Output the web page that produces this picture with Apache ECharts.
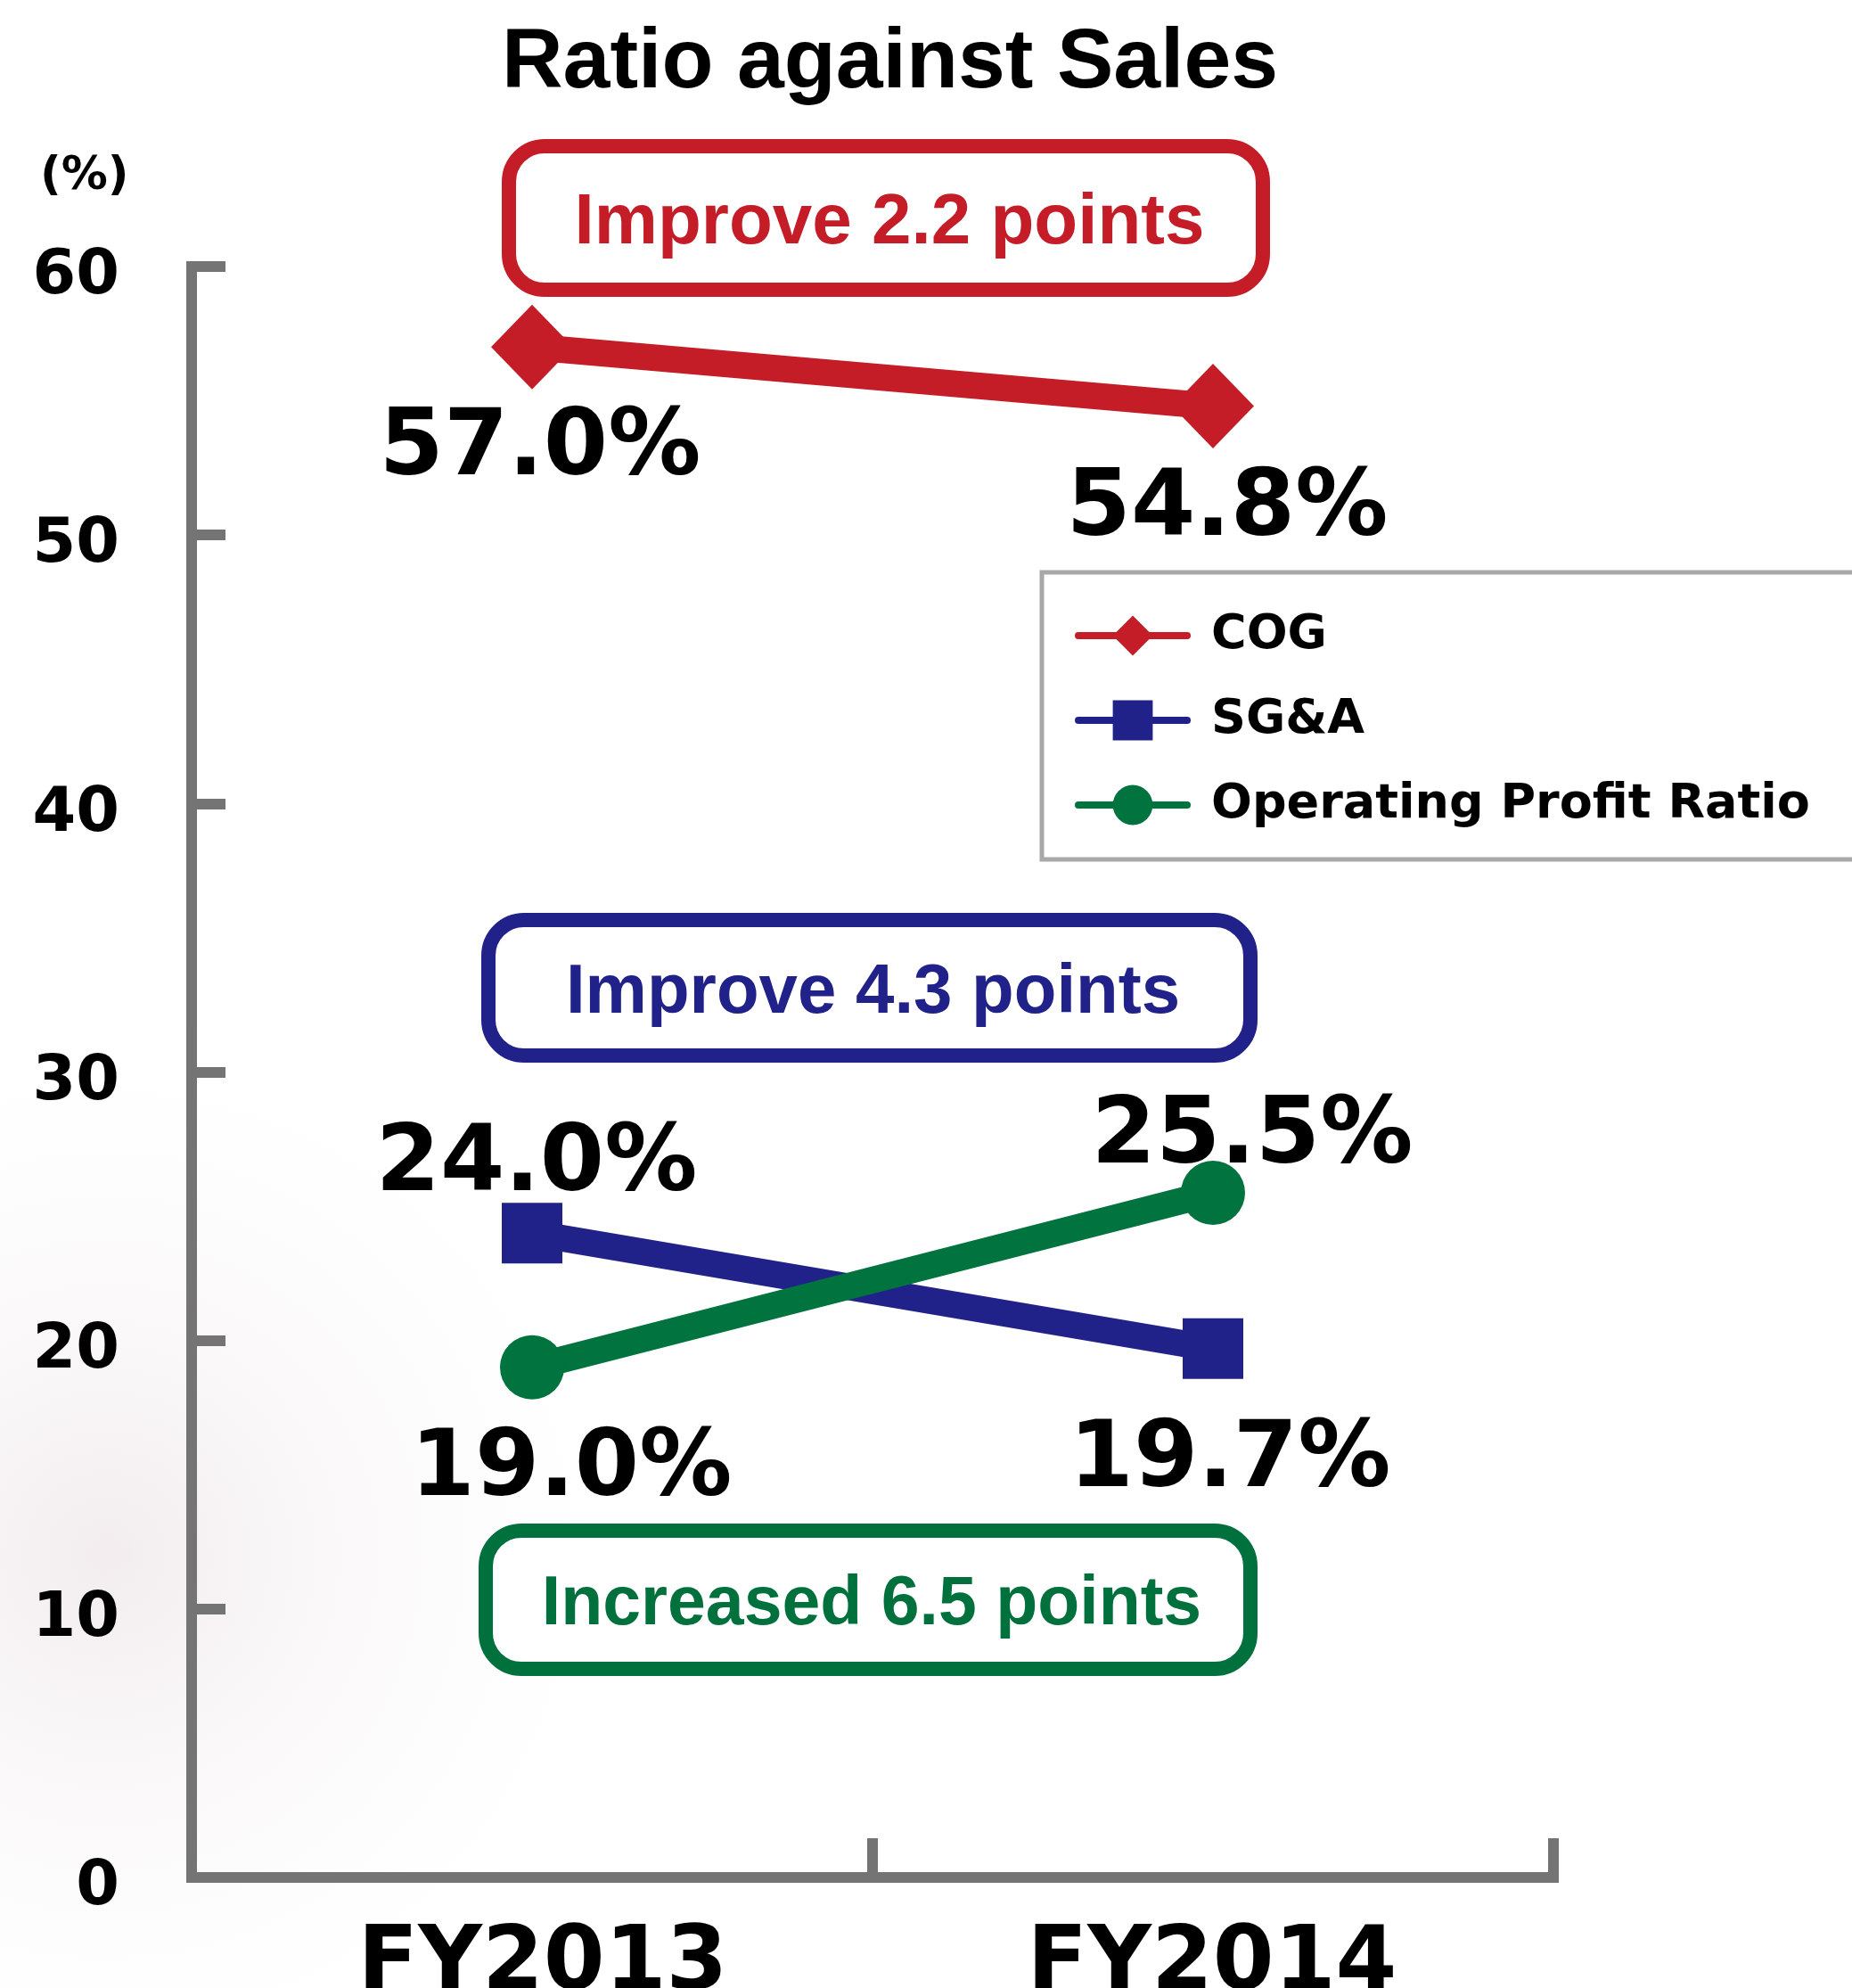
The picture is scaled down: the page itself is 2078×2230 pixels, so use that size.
<!DOCTYPE html>
<html><head><meta charset="utf-8">
<script src="https://cdn.jsdelivr.net/npm/echarts@6/dist/echarts.min.js"></script>
<style>html,body{margin:0;padding:0;background:#fff}#c{width:2078px;height:2230px}</style>
</head><body><div id="c"></div>
<script>
// ---- data ----
const categories = ['FY2013', 'FY2014'];
const seriesNames = ['COG', 'SG&A', 'Operating Profit Ratio'];
const cogValues = [57.0, 54.8];
const sgaValues = [24.0, 19.7];
const opValues = [19.0, 25.5];
const yTickLabels = ['0', '10', '20', '30', '40', '50', '60'];
const titleText = 'Ratio against Sales';
const unitText = '(%)';
const annotationTexts = ['Improve 2.2 points', 'Improve 4.3 points', 'Increased 6.5 points'];

// ---- styles ----
const RED = '#C41D28', BLUE = '#21218A', GREEN = '#00733E';
const AXIS = '#747474';
const EXT = 'DejaVu Sans';
const SANS = 'Liberation Sans';
const labelOffsets = [
  [[9, 116], [16, 117]],
  [[5, -75], [19, 127]],
  [[44, 116], [44, -61]]
];
const boxes = [
  {x: 571, y: 164, w: 846, h: 161, color: RED, fs: 80},
  {x: 548, y: 1032, w: 855, h: 152, color: BLUE, fs: 78},
  {x: 545, y: 1717, w: 858, h: 155, color: '#00703D', fs: 77}
];

function mkData(vals, si) {
  return vals.map((v, i) => ({value: v, label: {offset: labelOffsets[si][i]}}));
}
const labelCommon = {
  show: true, position: 'inside',
  formatter: p => p.value.toFixed(1) + '%',
  fontFamily: EXT, fontWeight: 'bold', fontSize: 104, color: '#000'
};

const chart = echarts.init(document.getElementById('c'), null, {renderer: 'canvas'});
const graphics = [
  {type: 'rect', silent: true, z: -10,
   shape: {x: 0, y: 1150, width: 1000, height: 1080},
   style: {fill: {type: 'radial', x: 0.12, y: 0.55, r: 0.65,
     colorStops: [{offset: 0, color: 'rgba(236,228,230,0.7)'}, {offset: 1, color: 'rgba(255,255,255,0)'}]}}}
];
boxes.forEach((b, i) => {
  graphics.push({type: 'rect', z: 10, shape: {x: b.x, y: b.y, width: b.w, height: b.h, r: 40},
    style: {fill: '#fff', stroke: b.color, lineWidth: 16}});
  graphics.push({type: 'text', z: 11, x: b.x + b.w / 2 + 4, y: b.y + b.h / 2 + 6,
    style: {text: annotationTexts[i], fill: b.color, font: 'bold ' + b.fs + 'px "Liberation Sans"',
      align: 'center', verticalAlign: 'middle', textAlign: 'center', textVerticalAlign: 'middle'}});
});

const xLabelFont = {fontFamily: EXT, fontWeight: 'bold', fontSize: 99, color: '#000'};

chart.setOption({
  animation: false,
  backgroundColor: '#fff',
  title: [
    {text: titleText, left: 563, top: 24, padding: 0,
     textStyle: {fontFamily: SANS, fontWeight: 'bold', fontSize: 95, color: '#000'}},
    {text: unitText, left: 45, top: 172, padding: 0,
     textStyle: {fontFamily: EXT, fontWeight: 'bold', fontSize: 52, color: '#000'}}
  ],
  grid: {left: 215, right: 335, top: 299, bottom: 124, containLabel: false, outerBoundsMode: 'none'},
  legend: {
    left: 1169, top: 642, orient: 'vertical',
    data: seriesNames,
    itemWidth: 122, itemHeight: 56, itemGap: 41,
    padding: [44, 160, 34, 37],
    borderColor: '#A8A8A8', borderWidth: 5, backgroundColor: '#fff',
    lineStyle: {width: 8, cap: 'round'},
    textStyle: {fontFamily: EXT, fontWeight: 'bold', fontSize: 54, color: '#000', padding: [0, 0, 0, 22]},
    selectedMode: false
  },
  xAxis: {
    type: 'category', data: categories, boundaryGap: true,
    axisLine: {lineStyle: {color: AXIS, width: 12, cap: 'square'}},
    axisTick: {show: true, inside: true, length: 44, interval: 0, lineStyle: {color: AXIS, width: 12}},
    axisLabel: {margin: 50, color: '#000',
      formatter: (v, i) => (i === 0 ? '{a|' : '{b|') + v + '}',
      rich: {
        a: Object.assign({padding: [0, 0, 0, 24]}, xLabelFont),
        b: Object.assign({padding: [0, 0, 0, -2]}, xLabelFont)
      }},
    splitLine: {show: false}
  },
  yAxis: {
    type: 'value', min: 0, max: 60, interval: 10,
    axisLine: {show: true, lineStyle: {color: AXIS, width: 12, cap: 'square'}},
    axisTick: {show: true, inside: true, length: 38, lineStyle: {color: AXIS, width: 12}},
    axisLabel: {margin: 81, color: '#000',
      formatter: (v) => '{y|' + yTickLabels[Math.round(v / 10)] + '}',
      rich: {y: {fontFamily: EXT, fontWeight: 'bold', fontSize: 70, color: '#000', padding: [24, 0, 0, 0]}}},
    splitLine: {show: false}
  },
  series: [
    {name: seriesNames[0], type: 'line', data: mkData(cogValues, 0), color: RED,
     symbol: 'diamond', symbolSize: [92, 95], lineStyle: {width: 30, color: RED},
     itemStyle: {color: RED}, label: labelCommon, z: 3},
    {name: seriesNames[1], type: 'line', data: mkData(sgaValues, 1), color: BLUE,
     symbol: 'rect', symbolSize: 68, lineStyle: {width: 30, color: BLUE},
     itemStyle: {color: BLUE}, label: labelCommon, z: 4},
    {name: seriesNames[2], type: 'line', data: mkData(opValues, 2), color: GREEN,
     symbol: 'circle', symbolSize: 72, lineStyle: {width: 30, color: GREEN},
     itemStyle: {color: GREEN}, label: labelCommon, z: 5}
  ],
  graphic: {elements: graphics}
});
</script></body></html>
